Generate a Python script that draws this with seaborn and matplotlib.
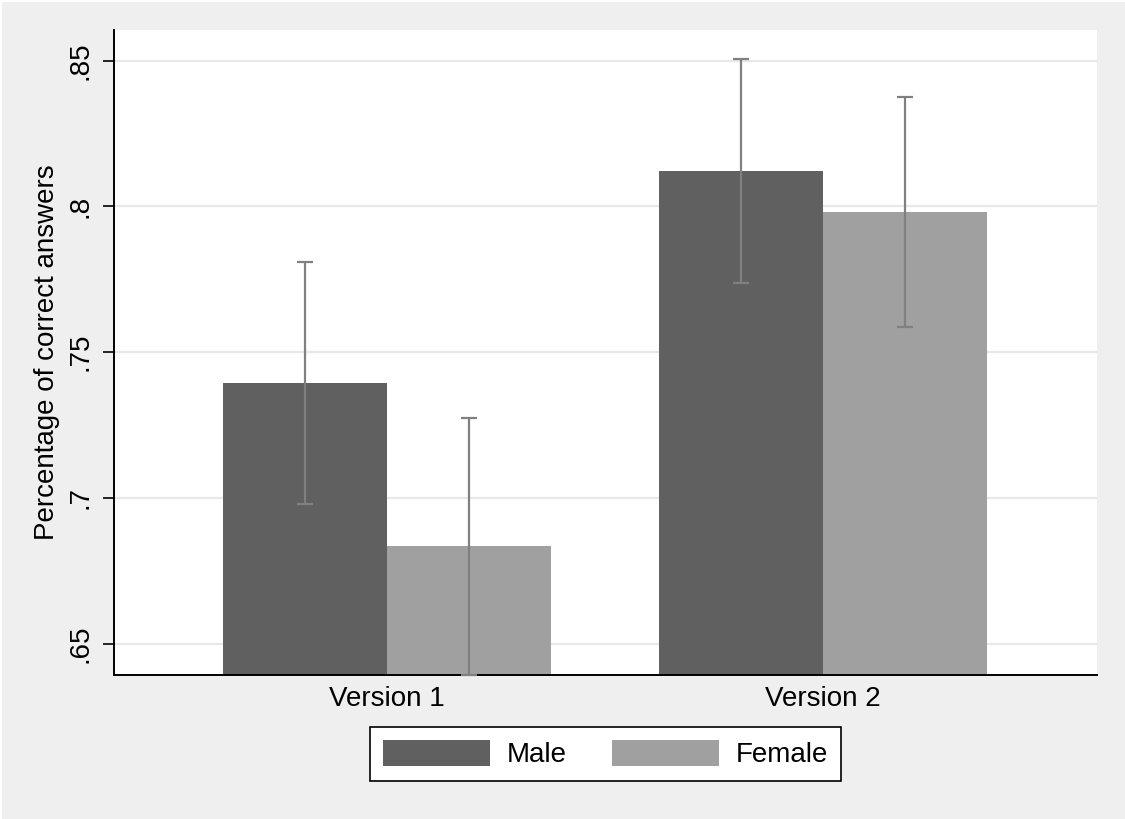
import numpy as np
import pandas as pd
import matplotlib
matplotlib.use("Agg")
import matplotlib.pyplot as plt
from matplotlib.patches import Rectangle, Patch
import seaborn as sns

# --- data ---
versions = ["Version 1", "Version 2"]
groups = ["Male", "Female"]
male_mean = [0.7394, 0.8122]
female_mean = [0.6833, 0.7980]
male_lo = [0.6978, 0.7738]
male_hi = [0.7809, 0.8506]
female_lo = [0.6393, 0.7585]
female_hi = [0.7273, 0.8374]
y_ticks = [0.65, 0.70, 0.75, 0.80, 0.85]
y_ticklabels = [".65", ".7", ".75", ".8", ".85"]

colors = {"Male": "#606060", "Female": "#a0a0a0"}
BG = "#efefef"

df = pd.DataFrame({
    "version": versions * 2,
    "sex": ["Male"] * 2 + ["Female"] * 2,
    "mean": male_mean + female_mean,
    "lo": male_lo + female_lo,
    "hi": male_hi + female_hi,
})

sns.set_style("white")
plt.rcParams["font.family"] = ["Liberation Sans", "DejaVu Sans"]
plt.rcParams.update({"text.color": "black", "axes.labelcolor": "black",
                     "xtick.color": "black", "ytick.color": "black"})

fig = plt.figure(figsize=(11.25, 8.19), dpi=100)
fig.patch.set_facecolor("white")
fig.patches.append(Rectangle((2 / 1125, 0), 1, 1 - 2 / 819, transform=fig.transFigure,
                             facecolor=BG, edgecolor="none", zorder=-5))
ax = fig.add_axes([114 / 1125, 1 - 675 / 819, (1097 - 114) / 1125, (675 - 30) / 819])
ax.set_facecolor("white")

sns.barplot(data=df, x="version", y="mean", hue="sex", hue_order=groups,
            palette=colors, width=0.752, errorbar=None, legend=False,
            saturation=1, linewidth=0, ax=ax)

# error bars at the bar centres
for cont, g in zip(ax.containers, groups):
    sub = df[df["sex"] == g].set_index("version").loc[versions]
    xs = [b.get_x() + b.get_width() / 2 for b in cont]
    m = sub["mean"].to_numpy()
    err = np.vstack([m - sub["lo"].to_numpy(), sub["hi"].to_numpy() - m])
    ax.errorbar(xs, m, yerr=err, fmt="none", ecolor="#808080",
                elinewidth=1.6, capsize=5.5, capthick=1.6, zorder=3, clip_on=False)

ax.set_ylim(0.6392, 0.8605)
ax.set_xlim(-0.627, 1.628)
ax.set_yticks(y_ticks)
ax.set_yticklabels(y_ticklabels, rotation=90, va="center", fontsize=20)
ax.tick_params(axis="y", length=8, width=1.2, color="black", pad=7, left=True)
ax.tick_params(axis="x", length=0, pad=8, labelsize=20)
ax.yaxis.grid(True, color="#e8e8e8", linewidth=1.6)
ax.set_axisbelow(True)
ax.set_xlabel("")
ax.set_ylabel("Percentage of correct answers", fontsize=20, labelpad=5)

for s in ["top", "right"]:
    ax.spines[s].set_visible(False)
for s in ["left", "bottom"]:
    ax.spines[s].set_color("black")
    ax.spines[s].set_linewidth(1.4)

handles = [Patch(facecolor=colors[g], edgecolor="none", label=g) for g in groups]
leg = fig.legend(handles=handles, loc="center", ncol=2,
                 bbox_to_anchor=(605.5 / 1125, 1 - 754 / 819), fontsize=20,
                 frameon=True, fancybox=False, framealpha=1, edgecolor="black",
                 handlelength=3.85, handleheight=1.05, handletextpad=0.6,
                 columnspacing=1.65, borderpad=0.45, borderaxespad=0)
leg.get_frame().set_linewidth(1.2)

fig.savefig("out.png", dpi=100, facecolor=fig.get_facecolor())
